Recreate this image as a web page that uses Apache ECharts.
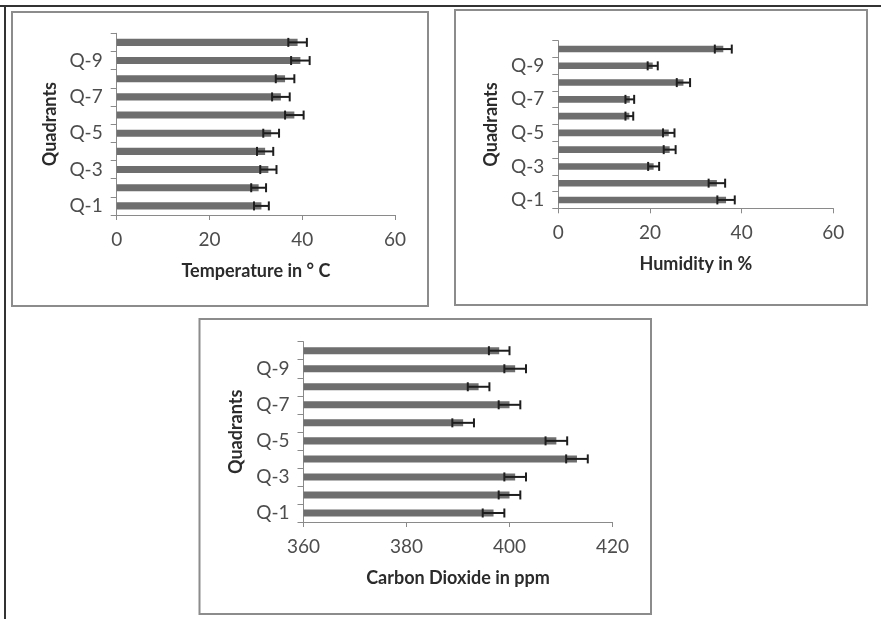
<!DOCTYPE html>
<html>
<head>
<meta charset="utf-8">
<script src="https://cdn.jsdelivr.net/npm/echarts@6/dist/echarts.min.js"></script>
<style>
  html, body { margin: 0; padding: 0; background: #fff; }
  #chart { width: 881px; height: 619px; }
</style>
</head>
<body>
<div id="chart"></div>
<script>
// Quadrant categories (bottom to top)
const quadrants = ['Q-1', 'Q-2', 'Q-3', 'Q-4', 'Q-5', 'Q-6', 'Q-7', 'Q-8', 'Q-9', 'Q-10'];

// Mean temperature (°C) and its error per quadrant
const temperature = [31.2, 30.6, 32.7, 32.0, 33.3, 38.3, 35.4, 36.3, 39.6, 39.0];
const temperatureErr = [1.6, 1.6, 1.75, 1.75, 1.7, 2.0, 1.9, 2.0, 2.0, 2.0];

// Mean relative humidity (%) and its error per quadrant
const humidity = [36.6, 34.6, 20.8, 24.3, 24.1, 15.5, 15.6, 27.3, 20.6, 36.0];
const humidityErr = [1.9, 1.8, 1.2, 1.3, 1.25, 0.85, 0.95, 1.45, 1.1, 1.85];

// Mean carbon dioxide (ppm) and its error per quadrant
const co2 = [396.9, 400.0, 401.1, 413.1, 409.1, 391.0, 400.0, 394.0, 401.1, 398.0];
const co2Err = [2.1, 2.1, 2.1, 2.1, 2.1, 2.1, 2.1, 2.1, 2.1, 2.0];

// Axis names and ranges
const axisNames = ['Temperature in ° C', 'Humidity in %', 'Carbon Dioxide in ppm'];
const yAxisName = 'Quadrants';
const xRanges = [[0, 60, 20], [0, 60, 20], [360, 420, 20]];

const FONT = 'Lato, "Open Sans", sans-serif';
const AXIS_GRAY = '#8a8a8a';
const BAR_GRAY = '#6e6e6e';
const ERR_COLOR = '#1e1e1e';
const LABEL_COLOR = '#4d4d4d';
const NAME_COLOR = '#2b2b2b';

const grids = [
  { left: 116.7, top: 33.3, width: 278.3, height: 181.7 },
  { left: 558.3, top: 40.7, width: 275, height: 167.6 },
  { left: 303.5, top: 341.7, width: 309, height: 180.3 }
];

function xAxis(i) {
  return {
    type: 'value', gridIndex: i,
    min: xRanges[i][0], max: xRanges[i][1], interval: xRanges[i][2],
    name: axisNames[i], nameLocation: 'middle', nameGap: 47,
    nameTextStyle: { fontFamily: FONT, fontWeight: 'bold', fontSize: 18, color: NAME_COLOR },
    axisLine: { show: true, lineStyle: { color: AXIS_GRAY, width: 1 } },
    axisTick: { show: true, length: 5, lineStyle: { color: AXIS_GRAY } },
    axisLabel: { fontFamily: FONT, fontSize: 19, color: LABEL_COLOR, margin: 15 },
    splitLine: { show: false }
  };
}

function yAxis(i) {
  return {
    type: 'category', gridIndex: i, data: quadrants,
    name: yAxisName, nameLocation: 'middle', nameGap: 58,
    nameTextStyle: { fontFamily: FONT, fontWeight: 'bold', fontSize: 18, color: NAME_COLOR },
    axisLine: { show: true, lineStyle: { color: AXIS_GRAY, width: 1 } },
    axisTick: { show: true, length: 6, interval: 0, alignWithLabel: false, lineStyle: { color: AXIS_GRAY } },
    axisLabel: { fontFamily: FONT, fontSize: 19, color: LABEL_COLOR, margin: 14, interval: 1 },
    splitLine: { show: false }
  };
}

function barSeries(i, values) {
  return {
    type: 'bar', xAxisIndex: i, yAxisIndex: i,
    data: values, barWidth: '39%',
    itemStyle: { color: BAR_GRAY },
    silent: true
  };
}

function errorSeries(i, values, errs) {
  return {
    type: 'custom', xAxisIndex: i, yAxisIndex: i,
    data: values.map((v, k) => [k, v - errs[k], v + errs[k]]),
    encode: { y: 0, x: [1, 2] },
    silent: true, z: 5,
    renderItem: function (params, api) {
      const k = api.value(0);
      const lo = api.coord([api.value(1), k]);
      const hi = api.coord([api.value(2), k]);
      const h = 4.5;
      const style = { stroke: ERR_COLOR, lineWidth: 2 };
      return {
        type: 'group',
        children: [
          { type: 'line', shape: { x1: lo[0], y1: lo[1], x2: hi[0], y2: hi[1] }, style },
          { type: 'line', shape: { x1: lo[0], y1: lo[1] - h, x2: lo[0], y2: lo[1] + h }, style },
          { type: 'line', shape: { x1: hi[0], y1: hi[1] - h, x2: hi[0], y2: hi[1] + h }, style }
        ]
      };
    }
  };
}

const frameStyle = { fill: 'none', stroke: '#8c8c8c', lineWidth: 2 };

const option = {
  backgroundColor: '#fff',
  animation: false,
  grid: grids,
  xAxis: [xAxis(0), xAxis(1), xAxis(2)],
  yAxis: [yAxis(0), yAxis(1), yAxis(2)],
  series: [
    barSeries(0, temperature), errorSeries(0, temperature, temperatureErr),
    barSeries(1, humidity), errorSeries(1, humidity, humidityErr),
    barSeries(2, co2), errorSeries(2, co2, co2Err)
  ],
  graphic: [
    // outer page frame (top and left edges)
    { type: 'line', shape: { x1: 0, y1: 6, x2: 881, y2: 6 }, style: { stroke: '#333', lineWidth: 2 } },
    { type: 'line', shape: { x1: 5, y1: 6, x2: 5, y2: 619 }, style: { stroke: '#333', lineWidth: 2 } },
    // panel boxes
    { type: 'rect', shape: { x: 12, y: 12, width: 416, height: 294 }, style: frameStyle },
    { type: 'rect', shape: { x: 455, y: 10, width: 412, height: 295 }, style: frameStyle },
    { type: 'rect', shape: { x: 199.5, y: 319, width: 451.5, height: 295 }, style: frameStyle }
  ]
};

const chart = echarts.init(document.getElementById('chart'), null, { renderer: 'canvas' });
chart.setOption(option);
</script>
</body>
</html>
